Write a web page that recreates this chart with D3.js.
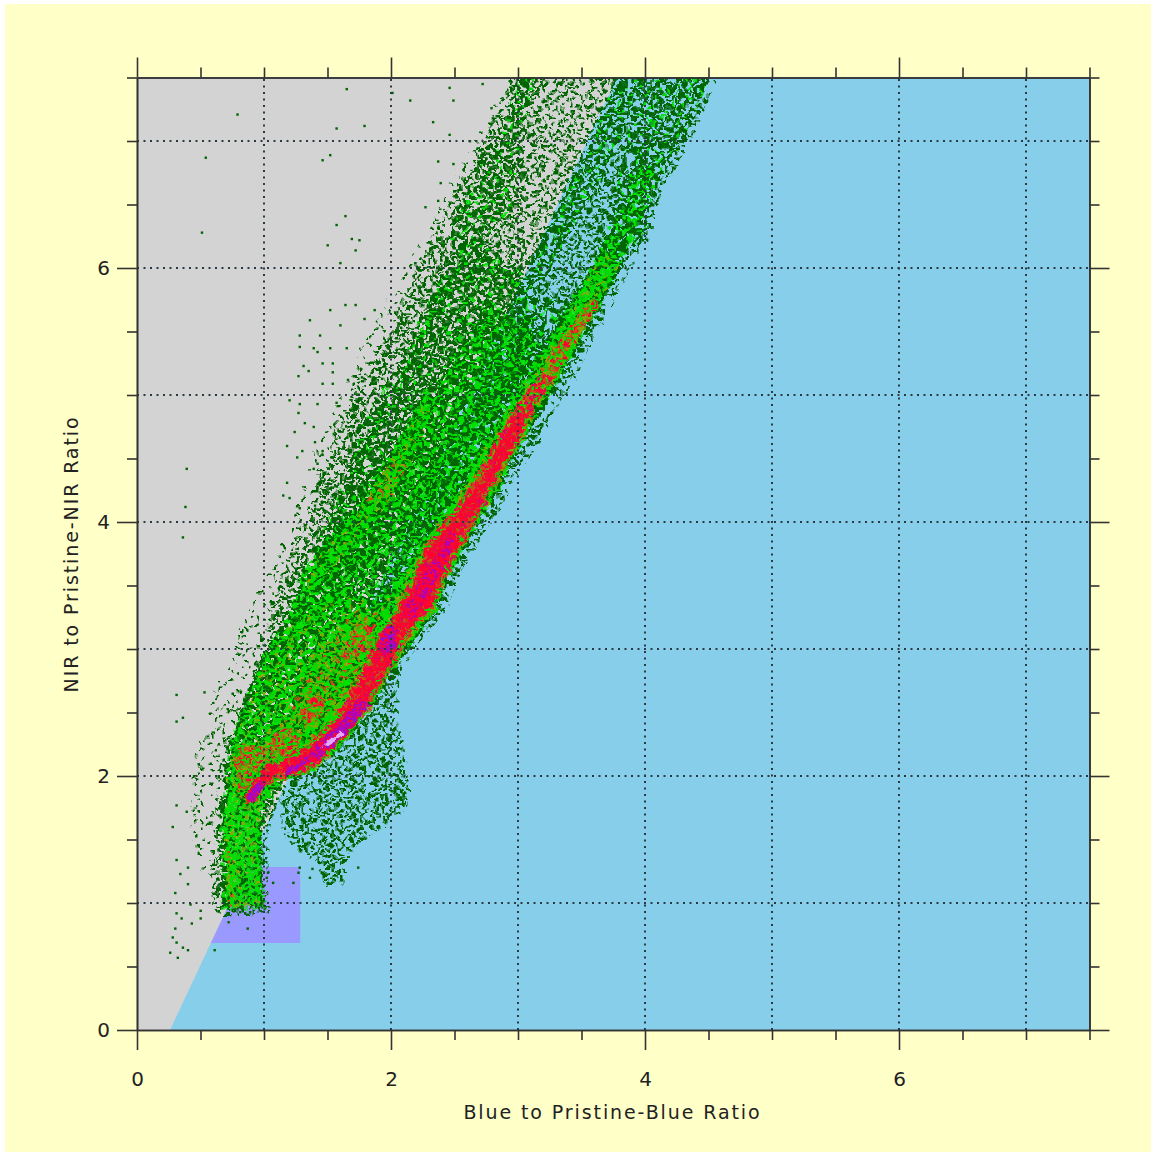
<!DOCTYPE html>
<html>
<head>
<meta charset="utf-8">
<script src="https://cdnjs.cloudflare.com/ajax/libs/d3/7.8.5/d3.min.js"></script>
<style>
  html, body { margin: 0; padding: 0; background: #fff; }
  svg { display: block; }
  text { font-family: "DejaVu Sans", sans-serif; fill: #222; }
</style>
</head>
<body>
<div id="chart"></div>
<script>
// axis values
var axisMax = 7.5;
var minorTicks = [0.5, 1, 1.5, 2.5, 3, 3.5, 4.5, 5, 5.5, 6.5, 7, 7.5];
var majorTicks = [0, 2, 4, 6];
var gridValues = [1, 2, 3, 4, 5, 6, 7];
var xTitle = 'Blue to Pristine-Blue Ratio';
var yTitle = 'NIR to Pristine-NIR Ratio';

// background regions, ratio units
var grayRegion = [[0, 0], [0.26, 0], [3.78, 7.5], [0, 7.5]];
var boxRegion = [[0.5, 0.685], [1.285, 0.685], [1.285, 1.283], [0.5, 1.283]];

// density regions, ratio units
var hazeZone = [[.43,1.52],[.44,2.07],[.55,2.46],[.63,2.73],[.71,2.97],[.81,3.17],[.98,3.50],[1.13,3.78],[1.24,4.02],[1.32,4.33],[1.44,4.65],[1.56,4.88],[1.64,5.08],[1.79,5.43],[2.03,5.83],[2.27,6.26],[2.50,6.73],[2.78,7.20],[2.95,7.55],[3.17,7.55],[1.28,2.60],[.81,1.42],[.69,.98],[.54,1.18]];
var gapZone = [[3.17,7.55],[3.78,7.55],[3.59,7.00],[3.27,6.37],[3.04,6.04],[3.05,6.61]];
var lobeZone = [[1.17,1.95],[1.52,2.28],[2.05,2.95],[2.01,2.44],[2.05,2.31],[2.11,1.94],[2.11,1.79],[1.94,1.63],[1.73,1.50],[1.62,1.34],[1.60,1.18],[1.50,1.16],[1.46,1.34],[1.26,1.44],[1.17,1.61]];
var mainZone = [[.64,.98],[.63,1.14],[.68,1.55],[.69,1.91],[.73,2.23],[.79,2.49],[.87,2.38],[.94,2.70],[1.02,2.97],[1.10,3.23],[1.15,3.46],[1.26,3.72],[1.39,3.99],[1.44,4.25],[1.57,4.51],[1.62,4.78],[1.75,5.01],[1.86,5.17],[1.97,5.43],[2.15,5.75],[2.28,6.06],[2.41,6.32],[2.52,6.53],[2.62,6.77],[2.78,7.00],[2.91,7.24],[3.01,7.55],[3.17,7.55],[3.07,7.08],[3.05,6.61],[3.04,6.04],[3.27,6.37],[3.46,6.77],[3.59,7.00],[3.72,7.24],[3.78,7.55],[4.53,7.55],[4.30,7.00],[4.06,6.59],[4.01,6.32],[3.82,6.01],[3.72,5.80],[3.57,5.53],[3.49,5.33],[3.38,5.12],[3.23,4.90],[3.12,4.64],[2.96,4.43],[2.80,4.12],[2.64,3.86],[2.49,3.60],[2.38,3.33],[2.25,3.17],[2.05,2.89],[1.89,2.65],[1.73,2.44],[1.52,2.23],[1.36,2.07],[1.20,1.99],[1.10,1.91],[1.03,1.73],[.97,1.52],[.99,.97],[.72,.95]];
var denseRight = [[3.96,7.55],[4.53,7.55],[4.30,7.00],[4.06,6.59],[4.01,6.32],[3.82,6.01],[3.57,5.53],[3.38,5.24],[3.17,5.08],[3.41,5.67],[3.65,6.14],[3.76,6.57],[3.84,6.92]];
var denseStrip = [[3.78,7.55],[3.96,7.55],[3.80,7.00],[3.65,6.69],[3.41,6.26],[3.21,5.91],[3.06,5.75],[3.09,6.04],[3.27,6.37],[3.46,6.77],[3.59,7.00]];
var leftFinger = [[3.00,7.55],[3.14,7.55],[3.02,7.00],[2.98,6.50],[2.60,6.10],[2.45,6.25],[2.70,6.80],[2.90,7.10]];
var denseLeft = [[2.62,6.20],[3.03,5.90],[3.09,5.75],[3.09,5.43],[2.94,5.12],[2.78,4.96],[2.62,4.65],[2.38,4.41],[2.23,4.17],[1.95,3.86],[1.60,3.46],[1.28,3.07],[1.04,2.76],[1.25,3.25],[1.42,3.72],[1.65,4.25],[1.85,4.78],[2.08,5.17],[2.35,5.75]];
var denseMid = [[3.06,5.75],[3.57,5.75],[3.27,5.08],[2.78,4.17],[2.23,3.70],[1.95,3.86],[2.23,4.17],[2.62,4.65],[2.94,5.12]];
var mixedBody = [[.89,2.60],[1.04,2.99],[1.20,3.31],[1.35,3.62],[1.52,3.86],[1.68,4.09],[1.87,4.37],[2.03,4.61],[2.23,4.88],[2.38,5.08],[2.62,5.47],[2.78,5.75],[3.17,5.43],[2.78,4.57],[2.23,3.70],[2.00,3.31],[1.52,2.44],[1.28,2.20],[.93,1.91]];
var upperStrip = [[4.08,6.81],[3.96,6.38],[3.80,6.02],[3.67,6.14],[3.80,6.42],[3.96,6.81]];
var limeStreak = [[1.28,3.54],[1.68,4.02],[1.95,4.37],[2.11,4.68],[2.27,5.00],[2.36,4.96],[2.20,4.57],[2.00,4.17],[1.70,3.82],[1.36,3.42]];
var limeBody = [[.89,2.60],[1.01,2.91],[1.20,3.19],[1.44,3.34],[1.62,3.42],[1.80,3.40],[1.95,3.07],[1.68,2.68],[1.28,2.24],[.93,2.01],[.81,1.89],[.75,2.20],[.81,2.40]];
var limeColumn = [[.70,.98],[.98,.98],[.95,1.54],[.98,1.73],[1.09,1.93],[.89,2.05],[.75,2.20],[.71,1.89],[.69,1.50]];
var limeStrip = [[3.80,6.02],[3.65,5.75],[3.45,5.39],[3.28,5.08],[3.09,4.76],[2.94,4.49],[2.78,4.17],[2.62,3.90],[2.46,3.62],[2.35,3.34],[2.19,3.11],[1.95,2.76],[1.68,2.40],[1.36,2.13],[1.28,2.32],[1.52,2.60],[1.72,2.91],[1.83,3.19],[1.95,3.39],[2.15,3.66],[2.35,3.98],[2.54,4.25],[2.70,4.53],[2.90,4.88],[3.09,5.16],[3.29,5.47],[3.49,5.83],[3.67,6.14]];
var warmBody = [[1.20,2.48],[1.40,2.95],[1.70,3.30],[1.90,3.30],[1.72,2.72],[1.40,2.35]];
var warmStreak = [[1.80,4.17],[1.95,4.41],[2.07,4.57],[2.15,4.49],[1.99,4.17]];
var warmColumn = [[.70,1.42],[.75,1.42],[.76,1.03],[.91,1.01],[.91,.97],[.72,.97]];
var hotA = [[.76,2.09],[.81,2.22],[.98,2.24],[1.05,2.13],[.98,1.93],[.81,1.89]];
var hotB = [[1.03,2.24],[1.17,2.40],[1.28,2.32],[1.28,2.17],[1.09,2.09]];
var hotC = [[1.26,2.48],[1.40,2.64],[1.50,2.62],[1.46,2.48],[1.32,2.40]];
var hotD = [[1.60,2.91],[1.72,3.19],[1.87,3.19],[1.80,2.95]];
var redFringe = [[.84,1.78],[.89,1.93],[.98,2.06],[1.13,2.14],[1.34,2.24],[1.52,2.43],[1.65,2.61],[1.78,2.87],[1.89,3.08],[2.01,3.24],[2.05,3.34],[2.19,3.61],[2.31,3.87],[2.52,4.13],[2.70,4.40],[2.83,4.66],[2.99,4.92],[3.20,5.19],[3.30,5.15],[3.13,4.89],[3.01,4.63],[2.85,4.37],[2.72,4.10],[2.57,3.84],[2.43,3.58],[2.33,3.31],[2.20,3.19],[2.09,3.00],[1.95,2.76],[1.79,2.50],[1.64,2.29],[1.38,2.05],[1.20,1.99],[1.10,1.98],[1.00,1.90],[.86,1.76]];
var upperRed = [[3.20,5.19],[3.27,5.37],[3.45,5.60],[3.58,5.76],[3.64,5.71],[3.41,5.35],[3.30,5.15]];
var redBand = [[.86,1.81],[.93,1.97],[1.05,2.09],[1.16,2.11],[1.36,2.20],[1.53,2.38],[1.67,2.57],[1.80,2.83],[1.91,3.05],[2.03,3.20],[2.07,3.31],[2.21,3.58],[2.33,3.83],[2.54,4.09],[2.72,4.36],[2.86,4.62],[3.00,4.86],[3.09,4.86],[2.98,4.64],[2.83,4.38],[2.70,4.13],[2.54,3.87],[2.41,3.61],[2.31,3.35],[2.17,3.21],[2.05,3.02],[1.92,2.79],[1.76,2.53],[1.61,2.32],[1.36,2.09],[1.18,2.02],[1.09,2.01],[.98,1.93],[.87,1.79]];
var magentaA = [[.87,1.83],[.97,1.97],[1.01,1.93],[.91,1.79]];
var magentaB = [[1.16,2.06],[1.36,2.16],[1.52,2.34],[1.64,2.46],[1.75,2.60],[1.82,2.56],[1.68,2.38],[1.52,2.22],[1.32,2.09],[1.19,2.02]];
var magentaBlob = [[1.90,3.02],[1.98,3.18],[2.05,3.15],[2.03,3.02],[1.95,2.96]];
var rosyRun = [[2.08,3.25],[2.27,3.62],[2.38,3.79],[2.50,3.95],[2.53,3.92],[2.44,3.70],[2.32,3.46],[2.19,3.23]];
var paleCore = [[1.46,2.24],[1.60,2.36],[1.62,2.33],[1.48,2.22]];

// single points away from the cloud, ratio units
var strayPoints = [[1.65,7.41],[.79,7.21],[.54,6.87],[.51,6.28],[1.79,7.12],[2.01,7.38],[1.57,7.10],[1.52,6.89],[1.46,6.85],[1.64,6.41],[1.57,6.34],[1.75,6.22],[1.72,6.14],[1.50,6.18],[1.60,6.04],[1.69,6.23],[2.15,7.32],
  [2.46,7.42],[2.72,7.45],[2.49,7.32],[2.33,7.15],[2.46,7.05],[2.37,6.84],[2.49,6.82],[2.39,6.67],[2.37,6.53],[2.27,6.48],[2.62,7.00],[2.79,7.26],[2.80,7.18],
  [1.28,5.38],[1.39,5.37],[1.42,5.34],[1.52,5.37],[1.65,5.37],[1.46,5.25],[1.54,5.25],[1.31,5.23],[1.35,5.19],[1.54,5.18],[1.46,5.09],[1.27,5.15],[1.54,5.09],[1.66,5.12],[1.77,5.14],[1.20,4.96],[1.28,4.93],[1.42,4.93],[1.57,4.94],[1.27,4.86],[1.32,4.78],[1.39,4.75],[1.24,4.71],[1.18,4.60],[1.30,4.56],[1.40,4.63],[1.46,4.56],[1.26,4.51],[1.42,4.46],[1.39,4.42],[1.18,4.31],[1.15,4.21],[1.28,4.11],[1.20,4.19],[1.40,4.13],[1.46,4.53],[1.54,4.51],
  [1.36,5.59],[1.52,5.67],[1.64,5.71],[1.72,5.71],[1.44,5.47],[1.60,5.55],[1.28,5.47],[1.79,5.60],[1.87,5.67],
  [.39,4.42],[.38,4.12],[.36,3.88],[.31,2.64],[.31,2.43],[.36,2.46],[.53,2.66],[.31,1.77],[.39,1.72],[.28,1.60],[.31,1.34],[.40,1.28],[.34,1.23],[.40,1.15],[.30,1.08],[.42,.99],[.31,.92],[.50,.94],[.35,.88],[.30,.80],[.28,.73],[.31,.69],[.26,.61],[.36,.65],[.40,.63],[.32,.57],[.50,.88],[.43,.84],[.72,.85],[.87,.80],[.61,.63],
  [1.02,1.20],[1.07,1.16],[.99,1.13],[1.03,1.24],[1.23,1.16],[1.27,1.24],[1.36,1.20],[1.28,1.28],[1.38,1.27],[1.74,1.28],[.81,.93],[.85,.92],[.89,.93]];

// speckle texture: each region shows the cells whose digit its colour key paints
var speckleTile = [
  '00377159284006637291540881376295',
  '14702693518827460135926704185372',
  '96158420773351098246617320958841',
  '38820175964420735819960142773506',
  '51094763382916604728351890467213',
  '77236018495053981164702295381640',
  '20965341872710642398057146829937',
  '84417293056628173509924880613752',
  '63051889427345090612738451296018',
  '19732604158896247730015963842576',
  '45880916372201583947766024139658',
  '02694751836674910258339817605423',
  '71358240099163725864402196738015',
  '96023187654480391726558043219760',
  '38471062995217046893110675482399',
  '50796423181935762014887392650148',
  '24189057736408129563372041998756',
  '87630914425571893640216758034192',
  '11952736804692307481965320147688',
  '69304582171138650297443089261573',
  '42817093566025794138807216395540',
  '05768241399874103625519683724017',
  '93120675842260947381176045892336',
  '76489130257513068294430917258861',
  '28053964710946281577623184095702',
  '61347805229380715496012768341957',
  '89510276343127569048896430217185',
  '34026198775601423869715082964330',
  '07695823416248930175348659701229',
  '52138740966793054286021397486614',
  '90764215083315786942267401385970',
  '16283597044856102733990528176443'
];
var paletteKey = { d: '#006400', g: '#00e000', o: '#86a800', m: '#d04a18', r: '#ff0030', c: '#e00060', p: '#b000b8', v: '#8a10e0', w: '#e6a8ff' };
var haze = 'd.........';
var sparse = 'ddd.......';
var medium = 'dddd......';
var firm = 'ddddd....g';
var dense = 'dddddd..g.';
var mixed = 'dddddggg..';
var speckled = 'dddggggg.o';
var lime = 'ddgggggggo';
var warm = 'ddgggggoom';
var hot = 'gggoommrr.';
var fringe = 'ggommrrrrc';
var red = 'mrrrrrrrcr';
var rosy = 'rrrrcpprcp';
var magenta = 'rrcpppvpvp';
var pale = 'wwwwwwwwww';

// back to front: zone, fill, speckled edge colour key, edge width
var layers = [
  [hazeZone, haze, null, 0], [gapZone, sparse, null, 0], [lobeZone, medium, sparse, 8], [mainZone, medium, sparse, 14],
  [leftFinger, firm, null, 0], [denseRight, firm, null, 0], [denseStrip, firm, null, 0], [denseLeft, dense, firm, 14], [denseMid, firm, null, 0],
  [mixedBody, mixed, medium, 8], [upperStrip, mixed, null, 0], [limeStreak, speckled, mixed, 8], [limeBody, speckled, mixed, 10], [limeColumn, lime, mixed, 8], [limeStrip, lime, mixed, 6],
  [warmBody, warm, null, 0], [warmStreak, warm, null, 0], [warmColumn, warm, null, 0], [hotA, hot, warm, 8], [hotB, hot, warm, 8], [hotC, hot, warm, 8], [hotD, hot, warm, 8],
  [redFringe, fringe, warm, 5], [upperRed, hot, null, 0], [redBand, red, fringe, 4], [magentaA, magenta, null, 0], [magentaB, magenta, rosy, 3], [magentaBlob, magenta, rosy, 3], [rosyRun, rosy, null, 0], [paleCore, pale, null, 0]
];

var width = 1151, height = 1152;
var cell = 2.5;

var svg = d3.select('#chart').append('svg').attr('width', width).attr('height', height);
var defs = svg.append('defs');

var x = d3.scaleLinear().domain([0, axisMax]).range([137, 1089.5]);
var y = d3.scaleLinear().domain([0, axisMax]).range([1030, 77.5]);

var line = d3.line().x(function(d) { return x(d[0]); }).y(function(d) { return y(d[1]); });
function closed(points) { return line(points) + 'Z'; }

// one pattern per colour key
var textures = [haze, sparse, medium, firm, dense, mixed, speckled, lime, warm, hot, fringe, red, rosy, magenta];
textures.forEach(function(key, k) {
  var pattern = defs.append('pattern')
    .attr('id', 'tex' + k)
    .attr('patternUnits', 'userSpaceOnUse')
    .attr('width', cell * 32)
    .attr('height', cell * 32);
  speckleTile.forEach(function(row, j) {
    row.split('').forEach(function(digit, i) {
      var code = key[+digit];
      if (code === '.') { return; }
      pattern.append('rect')
        .attr('x', i * cell).attr('y', j * cell)
        .attr('width', cell).attr('height', cell)
        .attr('fill', paletteKey[code]);
    });
  });
});
function textureUrl(key) { return 'url(#tex' + textures.indexOf(key) + ')'; }

// roughen region edges and break up the tile
var rough = defs.append('filter').attr('id', 'rough')
  .attr('filterUnits', 'userSpaceOnUse')
  .attr('x', 0).attr('y', 0).attr('width', width).attr('height', height)
  .attr('color-interpolation-filters', 'sRGB');
rough.append('feTurbulence').attr('type', 'fractalNoise').attr('baseFrequency', 0.13).attr('numOctaves', 2).attr('seed', 7).attr('result', 'grain');
rough.append('feDisplacementMap').attr('in', 'SourceGraphic').attr('in2', 'grain').attr('scale', 9)
  .attr('xChannelSelector', 'R').attr('yChannelSelector', 'G').attr('result', 'moved');
rough.append('feGaussianBlur').attr('in', 'moved').attr('stdDeviation', 0.4);

var soft = defs.append('filter').attr('id', 'soft')
  .attr('filterUnits', 'userSpaceOnUse')
  .attr('x', 0).attr('y', 0).attr('width', width).attr('height', height)
  .attr('color-interpolation-filters', 'sRGB');
soft.append('feGaussianBlur').attr('stdDeviation', 0.4);

defs.append('clipPath').attr('id', 'plot').append('rect')
  .attr('x', x(0)).attr('y', y(axisMax))
  .attr('width', x(axisMax) - x(0)).attr('height', y(0) - y(axisMax));

// paper
svg.append('rect').attr('x', 5).attr('y', 4).attr('width', width - 5).attr('height', height - 4).attr('fill', '#ffffc8');

// plot background
svg.append('rect').attr('x', x(0)).attr('y', y(axisMax))
  .attr('width', x(axisMax) - x(0)).attr('height', y(0) - y(axisMax)).attr('fill', '#87ceeb');
svg.append('path').attr('d', closed(boxRegion)).attr('fill', '#9999ff');
svg.append('path').attr('d', closed(grayRegion)).attr('fill', '#d3d3d3');

// density cloud
var plotArea = svg.append('g').attr('clip-path', 'url(#plot)');
var cloud = plotArea.append('g').attr('filter', 'url(#rough)');
cloud.selectAll('path.zone')
  .data(layers)
  .enter()
  .append('path')
  .attr('class', 'zone')
  .attr('d', function(d) { return closed(d[0]); })
  .attr('fill', function(d) { return d[1] === pale ? paletteKey.w : textureUrl(d[1]); })
  .attr('stroke', function(d) { return d[2] ? textureUrl(d[2]) : 'none'; })
  .attr('stroke-width', function(d) { return d[3]; })
  .attr('paint-order', 'stroke');

plotArea.append('g').attr('filter', 'url(#soft)').selectAll('rect.stray')
  .data(strayPoints)
  .enter()
  .append('rect')
  .attr('class', 'stray')
  .attr('x', function(d) { return x(d[0]) - 1; })
  .attr('y', function(d) { return y(d[1]) - 1; })
  .attr('width', 2.4).attr('height', 2.4)
  .attr('fill', paletteKey.d);

// dotted grid
svg.selectAll('line.gridx').data(gridValues).enter().append('line')
  .attr('class', 'gridx')
  .attr('x1', function(d) { return x(d); }).attr('x2', function(d) { return x(d); })
  .attr('y1', y(0)).attr('y2', y(axisMax));
svg.selectAll('line.gridy').data(gridValues).enter().append('line')
  .attr('class', 'gridy')
  .attr('y1', function(d) { return y(d); }).attr('y2', function(d) { return y(d); })
  .attr('x1', x(0)).attr('x2', x(axisMax));
svg.selectAll('line.gridx, line.gridy')
  .attr('stroke', '#2a3a40').attr('stroke-width', 2).attr('stroke-dasharray', '2 4.5');

// frame axes: short ticks at the half steps, long ones with labels
function frameAxis(maker, scale, translate, labelled, padding) {
  var g = svg.append('g').attr('transform', 'translate(' + translate + ')');
  g.append('g').call(maker(scale).tickValues(minorTicks).tickSize(10).tickSizeOuter(0).tickFormat(''));
  g.append('g').call(maker(scale).tickValues(majorTicks).tickSize(20).tickSizeOuter(0).tickPadding(padding)
    .tickFormat(labelled ? d3.format('d') : ''));
  g.selectAll('path, line').attr('stroke', '#333').attr('stroke-width', 1.6);
  g.selectAll('text').attr('font-size', 20).attr('font-family', '"DejaVu Sans", sans-serif').attr('fill', '#222');
}
frameAxis(d3.axisBottom, x, '0,' + y(0), true, 22);
frameAxis(d3.axisTop, x, '0,' + y(axisMax), false, 0);
frameAxis(d3.axisLeft, y, x(0) + ',0', true, 7);
frameAxis(d3.axisRight, y, x(axisMax) + ',0', false, 0);

svg.append('text').attr('x', 612.5).attr('y', 1119).attr('text-anchor', 'middle')
  .attr('font-size', 19).attr('letter-spacing', 1.9).text(xTitle);
svg.append('text').attr('transform', 'translate(78,554) rotate(-90)').attr('text-anchor', 'middle')
  .attr('font-size', 19).attr('letter-spacing', 1.9).text(yTitle);
</script>
</body>
</html>
